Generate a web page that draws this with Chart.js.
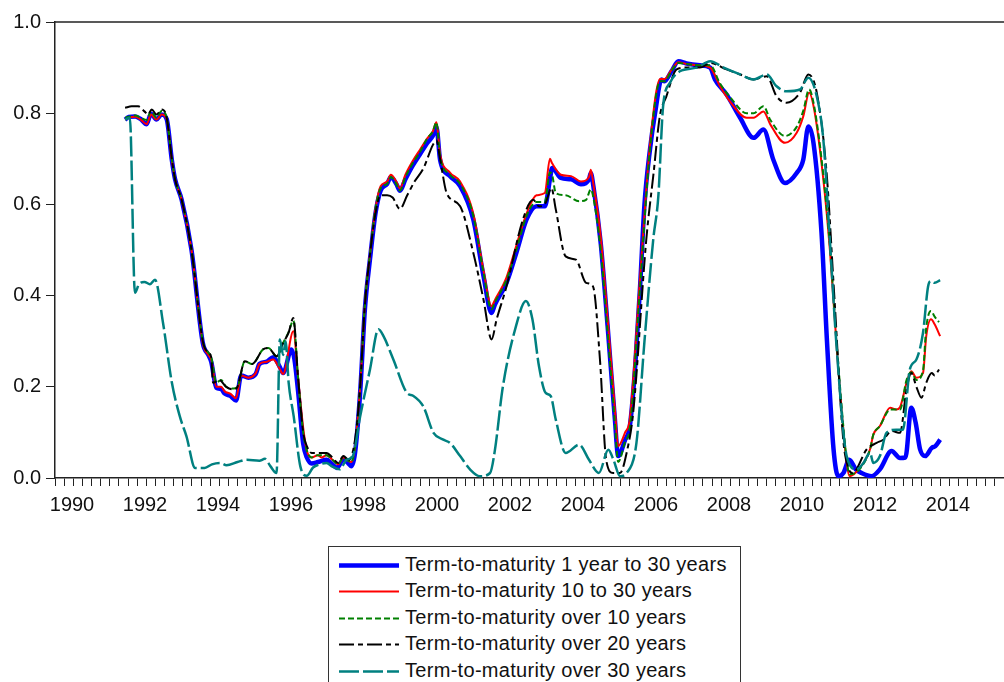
<!DOCTYPE html>
<html><head><meta charset="utf-8">
<script src="https://cdn.jsdelivr.net/npm/chart.js@4.4.0/dist/chart.umd.min.js"></script>
<style>
html,body{margin:0;padding:0;background:#fff;overflow:hidden;}
#wrap{position:relative;width:1004px;height:682px;}
canvas{position:absolute;left:0;top:0;}
#legend{position:absolute;left:328px;top:546px;width:413px;height:150px;border:1px solid #333;box-sizing:border-box;font-family:"Liberation Sans",Arial,sans-serif;font-size:20px;letter-spacing:0.3px;color:#111;background:#fff;}
.row{position:absolute;left:0;height:26px;line-height:26px;white-space:nowrap;}
.row svg{position:absolute;left:9px;top:0;}
.row span{position:absolute;left:76px;top:0;}
</style></head>
<body><div id="wrap"><canvas id="c" width="1004" height="682"></canvas><div id="legend"></div></div>
<script>
const seriesLabels = [
  "Term-to-maturity 1 year to 30 years",
  "Term-to-maturity 10 to 30 years",
  "Term-to-maturity over 10 years",
  "Term-to-maturity over 20 years",
  "Term-to-maturity over 30 years"
];
const yTickValues = [0, 0.2, 0.4, 0.6, 0.8, 1.0];
const xLabelYears = [1990,1992,1994,1996,1998,2000,2002,2004,2006,2008,2010,2012,2014];

// 1 year to 30 years
const datesA = [1991.92,1992.02,1992.2,1992.35,1992.51,1992.63,1992.78,1992.92,1993.06,1993.2,1993.29,1993.47,1993.74,1994.05,1994.2,1994.28,1994.42,1994.55,1994.65,1994.8,1994.96,1995.1,1995.3,1995.5,1995.6,1995.8,1995.98,1996.15,1996.25,1996.48,1996.56,1996.66,1996.8,1996.9,1997.03,1997.2,1997.44,1997.6,1997.72,1997.9,1998.0,1998.12,1998.22,1998.36,1998.49,1998.63,1998.78,1998.92,1999.1,1999.2,1999.35,1999.45,1999.6,1999.8,2000.0,2000.2,2000.35,2000.45,2000.55,2000.82,2001.1,2001.46,2001.74,2001.96,2002.05,2002.37,2002.64,2002.92,2003.19,2003.42,2003.56,2003.62,2003.86,2004.14,2004.41,2004.63,2004.68,2004.75,2004.95,2005.14,2005.34,2005.43,2005.62,2005.75,2005.9,2006.03,2006.15,2006.3,2006.44,2006.62,2006.7,2006.89,2007.08,2007.3,2007.67,2007.95,2008.08,2008.4,2008.77,2009.14,2009.41,2009.68,2010.0,2010.32,2010.5,2010.64,2010.78,2011.0,2011.15,2011.33,2011.46,2011.6,2011.76,2011.94,2012.1,2012.37,2012.6,2012.92,2013.15,2013.3,2013.46,2013.58,2013.7,2013.84,2014.02,2014.12,2014.25];
const valuesA = [0.786,0.792,0.793,0.787,0.776,0.799,0.786,0.797,0.787,0.698,0.655,0.61,0.5,0.296,0.27,0.255,0.198,0.195,0.185,0.18,0.17,0.225,0.22,0.228,0.25,0.255,0.265,0.245,0.23,0.282,0.26,0.19,0.075,0.045,0.032,0.035,0.04,0.03,0.022,0.04,0.035,0.026,0.055,0.187,0.37,0.48,0.58,0.63,0.645,0.66,0.645,0.63,0.655,0.685,0.71,0.735,0.75,0.77,0.698,0.662,0.64,0.567,0.443,0.362,0.38,0.428,0.494,0.567,0.596,0.596,0.655,0.68,0.658,0.655,0.644,0.655,0.669,0.64,0.516,0.333,0.128,0.048,0.084,0.114,0.25,0.42,0.6,0.72,0.8,0.874,0.87,0.892,0.914,0.909,0.905,0.9,0.874,0.841,0.79,0.746,0.764,0.698,0.647,0.669,0.698,0.771,0.735,0.538,0.3,0.063,0.004,0.011,0.04,0.019,0.011,0.004,0.019,0.059,0.044,0.045,0.154,0.121,0.063,0.048,0.066,0.07,0.084];

// 10 to 30 years
const datesB = [1991.92,1992.02,1992.2,1992.35,1992.51,1992.63,1992.78,1992.92,1993.06,1993.2,1993.29,1993.47,1993.74,1994.05,1994.2,1994.28,1994.42,1994.55,1994.65,1994.8,1994.96,1995.1,1995.3,1995.5,1995.6,1995.8,1995.98,1996.15,1996.25,1996.53,1996.66,1996.8,1996.9,1997.03,1997.2,1997.3,1997.44,1997.6,1997.76,1997.9,1998.0,1998.12,1998.22,1998.36,1998.49,1998.63,1998.78,1998.92,1999.1,1999.2,1999.35,1999.45,1999.6,1999.8,2000.0,2000.2,2000.35,2000.45,2000.55,2000.82,2001.1,2001.46,2001.74,2001.96,2002.05,2002.37,2002.64,2002.92,2003.19,2003.42,2003.56,2003.62,2003.86,2004.14,2004.41,2004.63,2004.68,2004.75,2004.95,2005.14,2005.34,2005.43,2005.62,2005.75,2006.03,2006.3,2006.58,2006.7,2006.89,2007.08,2007.3,2007.67,2007.95,2008.22,2008.5,2008.95,2009.14,2009.41,2009.6,2010.0,2010.32,2010.5,2010.66,2010.8,2011.05,2011.23,2011.45,2011.69,2011.77,2012.05,2012.33,2012.42,2012.6,2012.88,2013.05,2013.15,2013.33,2013.46,2013.6,2013.78,2013.87,2014.0,2014.1,2014.25];
const valuesB = [0.786,0.79,0.792,0.786,0.776,0.797,0.786,0.797,0.787,0.698,0.655,0.61,0.5,0.296,0.27,0.26,0.2,0.2,0.19,0.185,0.175,0.225,0.22,0.23,0.25,0.255,0.26,0.24,0.228,0.322,0.22,0.11,0.06,0.045,0.05,0.045,0.05,0.04,0.03,0.045,0.04,0.035,0.07,0.2,0.38,0.49,0.59,0.64,0.65,0.665,0.65,0.635,0.665,0.695,0.72,0.745,0.76,0.78,0.71,0.67,0.65,0.58,0.455,0.377,0.39,0.44,0.51,0.58,0.62,0.625,0.7,0.69,0.665,0.662,0.65,0.66,0.676,0.645,0.53,0.35,0.15,0.07,0.1,0.13,0.44,0.73,0.875,0.875,0.895,0.912,0.908,0.905,0.9,0.859,0.825,0.79,0.79,0.804,0.775,0.735,0.757,0.793,0.845,0.808,0.655,0.5,0.25,0.033,0.004,0.022,0.063,0.095,0.114,0.154,0.15,0.155,0.209,0.234,0.22,0.23,0.311,0.348,0.337,0.311];

// over 10 years
const datesC = [1991.92,1992.02,1992.2,1992.35,1992.51,1992.63,1992.78,1992.92,1993.06,1993.2,1993.29,1993.47,1993.74,1994.05,1994.2,1994.28,1994.42,1994.55,1994.69,1994.89,1995.0,1995.2,1995.4,1995.7,1995.85,1996.07,1996.25,1996.4,1996.53,1996.66,1996.8,1996.9,1997.03,1997.2,1997.44,1997.6,1997.76,1997.9,1998.0,1998.12,1998.22,1998.36,1998.49,1998.63,1998.78,1998.92,1999.1,1999.2,1999.35,1999.45,1999.6,1999.8,2000.0,2000.2,2000.35,2000.45,2000.55,2000.82,2001.1,2001.46,2001.74,2001.96,2002.05,2002.37,2002.64,2002.92,2003.19,2003.42,2003.56,2003.62,2003.72,2003.99,2004.36,2004.55,2004.68,2004.75,2004.95,2005.14,2005.34,2005.43,2005.62,2005.75,2006.03,2006.3,2006.58,2006.7,2006.89,2007.08,2007.3,2007.67,2007.95,2008.22,2008.5,2008.95,2009.14,2009.41,2009.6,2010.0,2010.32,2010.5,2010.66,2010.8,2011.05,2011.23,2011.45,2011.69,2011.77,2012.05,2012.33,2012.42,2012.6,2012.88,2013.05,2013.15,2013.33,2013.46,2013.6,2013.78,2013.87,2014.0,2014.1,2014.22];
const valuesC = [0.79,0.792,0.795,0.79,0.785,0.805,0.79,0.805,0.79,0.7,0.655,0.61,0.5,0.3,0.275,0.265,0.209,0.215,0.2,0.196,0.2,0.256,0.25,0.282,0.285,0.267,0.296,0.32,0.345,0.22,0.1,0.06,0.045,0.05,0.05,0.04,0.03,0.045,0.04,0.035,0.07,0.2,0.38,0.49,0.59,0.635,0.645,0.66,0.645,0.63,0.66,0.69,0.715,0.745,0.76,0.78,0.705,0.665,0.645,0.575,0.45,0.37,0.385,0.435,0.5,0.575,0.605,0.605,0.67,0.665,0.625,0.62,0.607,0.61,0.633,0.615,0.5,0.32,0.12,0.035,0.08,0.11,0.42,0.72,0.87,0.87,0.893,0.91,0.908,0.905,0.905,0.865,0.835,0.8,0.8,0.815,0.785,0.75,0.77,0.805,0.852,0.815,0.665,0.51,0.26,0.04,0.008,0.02,0.063,0.095,0.114,0.15,0.15,0.15,0.215,0.232,0.215,0.235,0.33,0.366,0.354,0.342];

// over 20 years
const datesD = [1991.92,1992.1,1992.28,1992.45,1992.55,1992.65,1992.78,1992.92,1993.06,1993.2,1993.29,1993.47,1993.74,1994.05,1994.2,1994.28,1994.33,1994.5,1994.69,1994.89,1995.0,1995.2,1995.4,1995.7,1995.85,1996.07,1996.25,1996.4,1996.53,1996.66,1996.8,1996.9,1997.03,1997.17,1997.3,1997.44,1997.6,1997.76,1997.9,1998.05,1998.22,1998.36,1998.49,1998.63,1998.78,1998.92,1999.1,1999.25,1999.45,1999.65,1999.85,2000.1,2000.35,2000.45,2000.55,2000.73,2001.1,2001.46,2001.74,2001.96,2002.1,2002.37,2002.82,2003.1,2003.26,2003.44,2003.6,2003.72,2003.99,2004.27,2004.55,2004.74,2004.93,2005.1,2005.29,2005.48,2005.66,2005.84,2006.2,2006.4,2006.57,2006.75,2007.03,2007.3,2007.67,2007.95,2008.4,2008.77,2009.14,2009.5,2009.77,2010.04,2010.41,2010.64,2010.87,2011.14,2011.35,2011.6,2011.75,2011.85,2012.24,2012.51,2012.69,2012.92,2013.15,2013.33,2013.46,2013.6,2013.74,2013.87,2014.02,2014.1,2014.22];
const valuesD = [0.812,0.815,0.815,0.804,0.797,0.808,0.797,0.808,0.79,0.7,0.655,0.61,0.5,0.3,0.275,0.265,0.209,0.215,0.2,0.194,0.2,0.256,0.25,0.282,0.285,0.267,0.296,0.319,0.351,0.22,0.1,0.07,0.055,0.055,0.055,0.055,0.045,0.033,0.048,0.04,0.084,0.2,0.38,0.49,0.58,0.62,0.62,0.615,0.59,0.62,0.65,0.68,0.73,0.74,0.7,0.625,0.596,0.494,0.391,0.304,0.348,0.42,0.567,0.61,0.596,0.603,0.636,0.589,0.486,0.479,0.428,0.42,0.26,0.04,0.011,0.011,0.055,0.143,0.523,0.669,0.793,0.837,0.896,0.9,0.9,0.91,0.896,0.885,0.874,0.881,0.837,0.823,0.845,0.885,0.845,0.669,0.4,0.08,0.019,0.011,0.063,0.077,0.084,0.103,0.099,0.194,0.23,0.2,0.176,0.209,0.23,0.225,0.238];

// over 30 years
const datesE = [1991.92,1992.05,1992.19,1992.3,1992.45,1992.6,1992.74,1992.96,1993.2,1993.42,1993.6,1993.84,1994.1,1994.3,1994.52,1994.7,1995.0,1995.25,1995.6,1995.75,1995.9,1996.07,1996.16,1996.25,1996.32,1996.4,1996.54,1996.72,1996.9,1997.07,1997.25,1997.44,1997.6,1997.8,1997.99,1998.16,1998.36,1998.63,1998.86,1999.0,1999.27,1999.64,1999.82,2000.09,2000.37,2000.64,2000.82,2001.1,2001.37,2001.64,2001.92,2002.05,2002.27,2002.63,2002.9,2003.08,2003.26,2003.44,2003.58,2003.72,2003.99,2004.36,2004.63,2004.9,2005.16,2005.3,2005.48,2005.66,2005.93,2006.15,2006.39,2006.53,2006.66,2006.85,2007.12,2007.58,2007.95,2008.32,2008.77,2009.14,2009.5,2009.77,2010.04,2010.41,2010.64,2010.87,2011.05,2011.23,2011.42,2011.69,2011.96,2012.15,2012.33,2012.42,2012.6,2012.78,2013.05,2013.23,2013.42,2013.6,2013.78,2013.92,2014.0,2014.1,2014.25];
const valuesE = [0.786,0.79,0.406,0.425,0.43,0.425,0.435,0.34,0.21,0.135,0.092,0.022,0.022,0.03,0.033,0.028,0.035,0.04,0.038,0.042,0.026,0.011,0.304,0.27,0.3,0.21,0.135,0.026,0.005,0.023,0.03,0.033,0.025,0.019,0.04,0.048,0.135,0.238,0.326,0.311,0.26,0.187,0.18,0.157,0.099,0.084,0.077,0.048,0.019,0.004,0.011,0.06,0.2,0.333,0.388,0.348,0.245,0.187,0.18,0.128,0.055,0.073,0.04,0.011,0.062,0.04,0.004,0.011,0.077,0.3,0.523,0.618,0.815,0.867,0.892,0.9,0.914,0.9,0.885,0.874,0.885,0.859,0.848,0.852,0.878,0.837,0.742,0.52,0.28,0.048,0.019,0.033,0.055,0.033,0.048,0.099,0.106,0.106,0.238,0.26,0.318,0.42,0.432,0.428,0.434];

const allDates = [datesA, datesB, datesC, datesD, datesE];
const allValues = [valuesA, valuesB, valuesC, valuesD, valuesE];
allDates.forEach((d, i) => { if (d.length !== allValues[i].length) throw new Error('length mismatch in series ' + i + ': ' + d.length + ' vs ' + allValues[i].length); });

const styles = [
  {color:'#0000FF', width:4.5, dash:[]},
  {color:'#FF0000', width:2, dash:[]},
  {color:'#008000', width:2, dash:[6,3]},
  {color:'#000000', width:2, dash:[15,4,5,4]},
  {color:'#008080', width:2.5, dash:[20,4]}
];

const FONT = '"Liberation Sans", Arial, sans-serif';

const datasets = seriesLabels.map((lab, i) => ({
  label: lab,
  data: allDates[i].map((t, k) => ({x: t, y: allValues[i][k]})),
  borderColor: styles[i].color,
  backgroundColor: styles[i].color,
  borderWidth: styles[i].width,
  borderDash: styles[i].dash,
  pointRadius: 0,
  fill: false,
  cubicInterpolationMode: 'monotone',
  order: 5 - i
}));

const frameTop = {
  id: 'frameTop',
  afterDraw(chart) {
    const {ctx, chartArea} = chart;
    ctx.save();
    ctx.strokeStyle = '#222';
    ctx.lineWidth = 1.5;
    ctx.beginPath();
    ctx.moveTo(chartArea.left, chartArea.top);
    ctx.lineTo(chartArea.right, chartArea.top);
    ctx.stroke();
    ctx.restore();
  }
};

new Chart(document.getElementById('c'), {
  type: 'line',
  data: { datasets },
  plugins: [frameTop],
  options: {
    responsive: false,
    animation: false,
    devicePixelRatio: 1,
    layout: { padding: { top: 22, left: 0, right: 0, bottom: 0 } },
    plugins: { legend: { display: false }, tooltip: { enabled: false } },
    scales: {
      x: {
        type: 'linear', min: 1990, max: 2016,
        afterFit(s) { s.height = 204; s.paddingRight = 0; s.paddingLeft = 0; },
        afterBuildTicks(s) {
          const t = [];
          for (let v = 0; v <= 104; v++) t.push({ value: 1990 + v * 0.25 });
          s.ticks = t;
        },
        ticks: {
          autoSkip: false, maxRotation: 0, minRotation: 0,
          labelOffset: 17, padding: 7, color: '#111',
          font: { size: 20, family: FONT },
          callback(v) {
            const r = Math.round(v * 4) / 4;
            return xLabelYears.includes(r) ? String(r) : '';
          }
        },
        grid: { drawOnChartArea: false, drawTicks: true, tickLength: 8, color: '#222', lineWidth: 1 },
        border: { display: true, color: '#222', width: 1.5 }
      },
      y: {
        min: 0, max: 1,
        afterFit(s) { s.width = 55; s.paddingTop = 0; s.paddingBottom = 0; },
        afterBuildTicks(s) { s.ticks = yTickValues.map(v => ({ value: v })); },
        ticks: {
          padding: 5, color: '#111',
          font: { size: 20, family: FONT },
          callback: v => Number(v).toFixed(1)
        },
        grid: { drawOnChartArea: false, drawTicks: true, tickLength: 9, color: '#222', lineWidth: 1 },
        border: { display: true, color: '#222', width: 1.5 }
      }
    }
  }
});

// legend (HTML), built from the dataset styles
const legend = document.getElementById('legend');
seriesLabels.forEach((lab, i) => {
  const row = document.createElement('div');
  row.className = 'row';
  row.style.top = (3.5 + i * 26.5) + 'px';
  const st = styles[i];
  row.innerHTML = '<svg width="62" height="26"><line x1="1" y1="14.5" x2="61" y2="14.5" stroke="' + st.color +
    '" stroke-width="' + st.width + '" stroke-dasharray="' + (st.dash.length ? st.dash.join(',') : 'none') + '"/></svg>';
  const sp = document.createElement('span');
  sp.textContent = lab;
  row.appendChild(sp);
  legend.appendChild(row);
});
</script>
</body></html>
